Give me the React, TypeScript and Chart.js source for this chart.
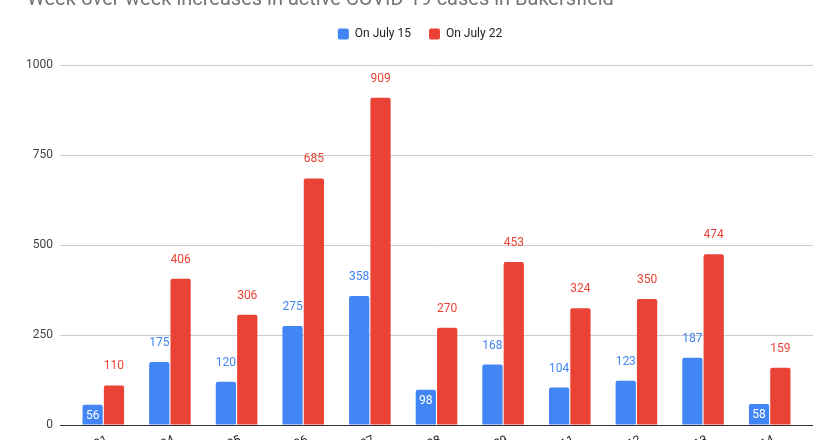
import React, { useEffect, useRef } from 'react';
import { Chart, registerables } from 'chart.js';

Chart.register(...registerables);

const zipCodes = ['93301', '93304', '93305', '93306', '93307', '93308', '93309', '93311', '93312', '93313', '93314'];
const july15 = [56, 175, 120, 275, 358, 98, 168, 104, 123, 187, 58];
const july22 = [110, 406, 306, 685, 909, 270, 453, 324, 350, 474, 159];
const yTicks = [0, 250, 500, 750, 1000];
const seriesNames = ['On July 15', 'On July 22'];
const seriesColors = ['#4285F4', '#EA4335'];
const chartTitle = 'Week-over-week increases in active COVID-19 cases in Bakersfield';

const valueLabels = {
  id: 'valueLabels',
  afterDatasetsDraw(chart: any) {
    const ctx = chart.ctx;
    ctx.save();
    ctx.font = '12px Roboto';
    ctx.textAlign = 'center';
    ctx.textBaseline = 'middle';
    chart.data.datasets.forEach((ds: any, di: number) => {
      const meta = chart.getDatasetMeta(di);
      meta.data.forEach((el: any, i: number) => {
        const v = ds.data[i].y;
        if (v < 100) {
          ctx.fillStyle = '#ffffff';
          ctx.fillText(String(v), el.x, el.y + 11);
        } else {
          ctx.fillStyle = ds.backgroundColor;
          ctx.fillText(String(v), el.x, el.y - 19);
        }
      });
    });
    ctx.restore();
  },
};

export default function App() {
  const ref = useRef<HTMLCanvasElement | null>(null);
  useEffect(() => {
    if (!ref.current) return;
    Chart.defaults.font.family = 'Roboto';
    const series = [july15, july22];
    const chart = new Chart(ref.current, {
      type: 'bar',
      data: {
        datasets: series.map((arr, k) => ({
          label: seriesNames[k],
          data: arr.map((y, i) => ({ x: i, y })),
          backgroundColor: seriesColors[k],
          borderWidth: 0,
          borderRadius: 2,
          categoryPercentage: 0.64,
          barPercentage: 0.95,
        })),
      },
      options: {
        responsive: false,
        animation: false,
        devicePixelRatio: 1,
        layout: { padding: { left: 27, right: 27, top: 0, bottom: 0 } },
        plugins: {
          tooltip: { enabled: false },
          title: {
            display: true,
            text: chartTitle,
            align: 'start',
            color: '#757575',
            font: { size: 20, weight: 'normal', lineHeight: 1 },
            padding: { top: 12, bottom: 0 },
          },
          subtitle: {
            display: true,
            text: ' ',
            weight: 100,
            font: { size: 1, lineHeight: 1 },
            padding: { top: 0, bottom: 14 },
          },
          legend: {
            position: 'top',
            labels: {
              boxWidth: 11,
              boxHeight: 11,
              padding: 18,
              color: '#222',
              useBorderRadius: true,
              borderRadius: 2,
              font: { size: 12 },
            },
          },
        },
        scales: {
          x: {
            type: 'linear',
            offset: false,
            min: -0.65,
            max: 10.65,
            grid: { display: false, offset: false },
            border: { display: false },
            afterBuildTicks: (s: any) => {
              s.ticks = zipCodes.map((_, i) => ({ value: i }));
            },
            afterFit: (s: any) => {
              s.height = 53;
            },
            ticks: {
              autoSkip: false,
              minRotation: 25,
              maxRotation: 25,
              color: '#222',
              font: { size: 12 },
              padding: 0,
              labelOffset: 4,
              callback: (v: any) => zipCodes[v] ?? '',
            },
          },
          y: {
            min: 0,
            max: 1000,
            border: { display: false },
            grid: {
              drawTicks: false,
              color: (c: any) => (c.tick && c.tick.value === 0 ? '#333333' : '#cccccc'),
            },
            afterBuildTicks: (s: any) => {
              s.ticks = yTicks.map((v) => ({ value: v }));
            },
            afterFit: (s: any) => {
              s.width = 33;
            },
            ticks: { padding: 7, color: '#444', font: { size: 12 }, callback: (v: any) => String(v) },
          },
        },
      } as any,
      plugins: [valueLabels],
    });
    return () => chart.destroy();
  }, []);
  return (
    <div style={{ position: 'fixed', left: 0, top: -22, width: 840, height: 500 }}>
      <canvas ref={ref} width={840} height={500} style={{ display: 'block' }} />
    </div>
  );
}
